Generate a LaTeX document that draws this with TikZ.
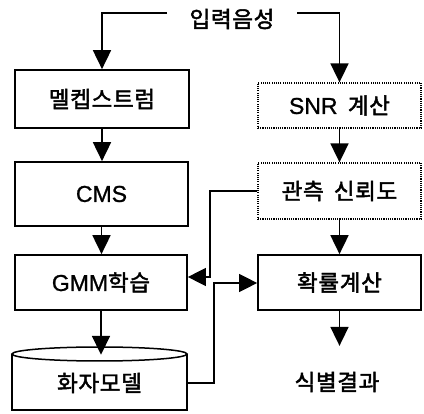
\documentclass[tikz,border=0pt]{standalone}
\usepackage{fontspec}
\setmainfont[FakeBold=1]{Liberation Sans}
\newfontfamily\kr[LetterSpace=3,FakeBold=2]{Noto Sans CJK KR}
\usetikzlibrary{arrows.meta}
\newcommand{\lat}{\fontsize{23}{27}\selectfont}
\newcommand{\han}{\kr\fontsize{22.5}{26}\selectfont}
\newcommand{\gap}{\hspace{0.45em}}
\begin{document}
\begin{tikzpicture}[x=1pt,y=-1pt,
  boxsolid/.style={draw,line width=1.7pt,inner sep=0pt,anchor=center},
  boxdot/.style={draw,line width=1.3pt,dash pattern=on 1.1pt off 1.1pt,inner sep=0pt},
  arr/.style={line width=1.8pt,-{Triangle[length=19pt 0 0,width=18pt 0 0]}},
  thinarr/.style={line width=1.3pt,-{Triangle[length=18pt 0 0,width=18pt 0 0]}},
  lbl/.style={inner sep=0pt}]
\useasboundingbox (0,0) rectangle (424,414);
% top input
\node[lbl] (in) at (232,19) {\han 입력음성};
\coordinate (inl) at (167,13);
\coordinate (inr) at (297,13);
% left column
\node[boxsolid,minimum width=174pt,minimum height=58pt] (mel) at (102,99) {\han 멜켑스트럼};
\node[boxsolid,minimum width=173pt,minimum height=64pt] (cms) at (101.5,194) {\lat CMS};
\node[boxsolid,minimum width=172pt,minimum height=55pt] (gmm) at (101,282.5) {\lat GMM{\han 학습}};
% cylinder
\draw[line width=1.5pt] (12,354) -- (12,410) -- (187,410) -- (187,354);
\draw[line width=1.5pt] (99.5,354) ellipse [x radius=87.5pt, y radius=7pt];
\node[lbl,minimum width=175pt,minimum height=56pt] (spk) at (99.5,383) {\han 화자모델};
% right column
\node[boxdot,minimum width=163pt,minimum height=45pt] (snr) at (339.5,105.5) {\lat SNR\gap{\han 계산}};
\node[boxdot,minimum width=163pt,minimum height=56pt] (obs) at (339.5,191) {\han 관측\gap 신뢰도};
\node[boxsolid,minimum width=163pt,minimum height=55pt] (prob) at (339.5,282.5) {\han 확률계산};
\node[lbl] (res) at (337,382) {\han 식별결과};
% connectors
\draw[arr] (inl) -| (mel.north);
\draw[arr] (inr) -| (snr.north);
\draw[arr] (mel.south) -- (mel.south |- cms.north);
\draw[arr] (cms.south) -- (cms.south |- gmm.north);
\draw[arr] (gmm.south) -- (gmm.south |- spk.north);
\draw[arr] (snr.south) -- (snr.south |- obs.north);
\draw[arr] (obs.south) -- (obs.south |- prob.north);
\draw[arr] (prob.south) -- ++(0,35);
\coordinate (fb1) at (210,277);
\coordinate (fb2) at (214,283);
\draw[thinarr] (obs.west) -| (fb1) -- (gmm.east |- fb1);
\draw[thinarr] (spk.east) -| (fb2) -- (prob.west |- fb2);
\end{tikzpicture}
\end{document}
